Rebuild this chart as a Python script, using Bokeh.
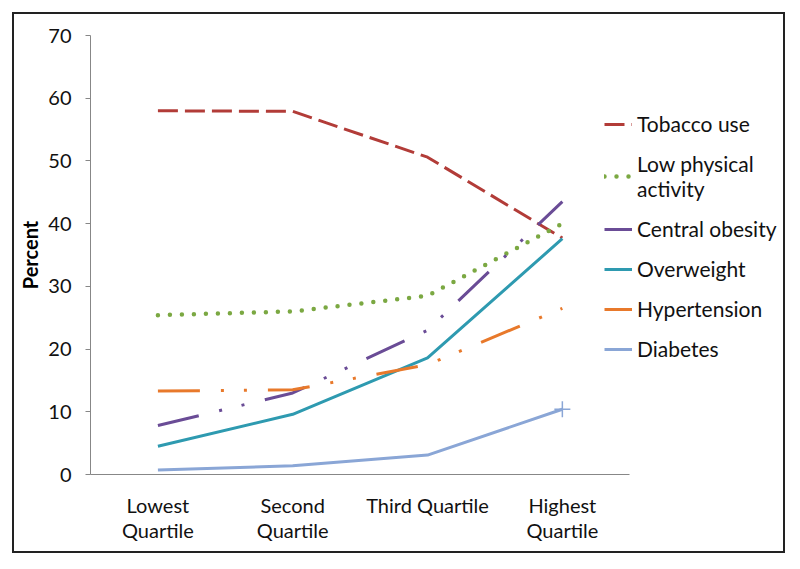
from bokeh.plotting import figure
from bokeh.models import Range1d, FixedTicker, Legend, LegendItem
from bokeh.embed import file_html
from bokeh.resources import INLINE

quartiles = ["Lowest\nQuartile", "Second\nQuartile", "Third Quartile", "Highest\nQuartile"]
tobacco = [58.0, 57.9, 50.6, 37.7]
low_pa = [25.4, 26.0, 28.5, 40.0]
central_obesity = [7.8, 13.0, 23.0, 43.5]
overweight = [4.5, 9.6, 18.6, 37.6]
hypertension = [13.3, 13.5, 17.5, 26.5]
diabetes = [0.7, 1.4, 3.1, 10.4]
y_ticks = [0, 10, 20, 30, 40, 50, 60, 70]

FONT = "Lato"
xpos = list(range(len(quartiles)))

p = figure(width=773, height=541, x_range=Range1d(-0.5, 4.67), y_range=Range1d(0, 70),
           output_backend="svg", toolbar_location=None,
           min_border_left=76, min_border_right=0, min_border_top=21, min_border_bottom=81)
p.styles = {"border": "2px solid #222222", "margin": "12px 0 0 12px"}
p.outline_line_color = None
p.xgrid.grid_line_color = None
p.ygrid.grid_line_color = None

series = [
    ("Tobacco use", tobacco, "#B23C38", "20 7", 3, "butt"),
    ("Low physical\nactivity", low_pa, "#7BA842", "0 12", 4.5, "round"),
    ("Central obesity", central_obesity, "#6A4C96", "42 21 3 20 3 21", 3, "butt"),
    ("Overweight", overweight, "#2E9AB0", "solid", 3, "butt"),
    ("Hypertension", hypertension, "#E8792B", "42 21 3 20 3 21", 3, "butt"),
    ("Diabetes", diabetes, "#8AA6D6", "solid", 3, "butt"),
]
items = []
for name, vals, color, dash, w, cap in series:
    r = p.line(xpos, vals, line_color=color, line_dash=dash, line_width=w, line_cap=cap)
    items.append(LegendItem(label=name, renderers=[r]))

p.scatter([xpos[-1]], [diabetes[-1]], marker="cross", size=16, line_color="#8AA6D6", line_width=1.5)

legend = Legend(items=items, location=(514, 113), padding=0, margin=0,
                background_fill_alpha=0, border_line_color=None,
                label_text_font=FONT, label_text_font_size="21px", label_text_color="#111111",
                glyph_width=28, glyph_height=20, label_height=20, label_standoff=5, spacing=15)
p.add_layout(legend, "center")

ya = p.yaxis[0]
ya.ticker = FixedTicker(ticks=y_ticks)
ya.minor_tick_line_color = None
ya.major_tick_in = 0
ya.major_tick_out = 5
ya.axis_line_color = "#878787"
ya.major_tick_line_color = "#878787"
ya.major_label_text_font = FONT
ya.major_label_text_font_size = "20px"
ya.major_label_text_color = "#111111"
ya.major_label_standoff = 14
ya.axis_label = "Percent"
ya.axis_label_text_font = FONT
ya.axis_label_text_font_style = "bold"
ya.axis_label_text_font_size = "20px"
ya.axis_label_text_color = "#000000"
ya.axis_label_standoff = 3

xa = p.xaxis[0]
xa.ticker = FixedTicker(ticks=xpos)
xa.major_label_overrides = {i: q for i, q in zip(xpos, quartiles)}
xa.bounds = (-0.5, len(quartiles) - 0.5)
xa.major_tick_line_color = None
xa.minor_tick_line_color = None
xa.axis_line_color = "#878787"
xa.major_label_text_font = FONT
xa.major_label_text_font_size = "20px"
xa.major_label_text_color = "#111111"
xa.major_label_text_line_height = 1.05
xa.major_label_standoff = 12
xa.major_label_orientation = "horizontal"

open("out.html", "w").write(file_html(p, INLINE))
